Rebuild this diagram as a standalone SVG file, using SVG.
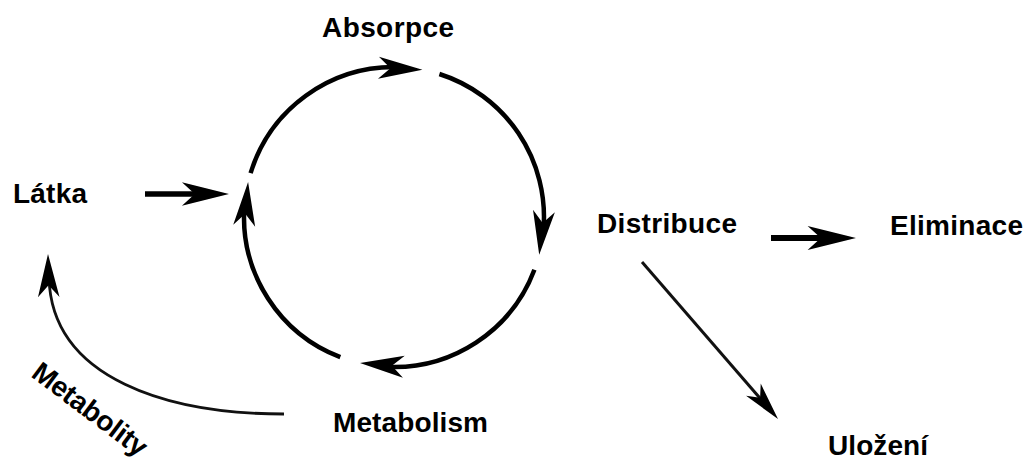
<svg xmlns="http://www.w3.org/2000/svg" xmlns:xlink="http://www.w3.org/1999/xlink" width="1027" height="463" viewBox="0 0 1027 463">
<style>
.lbl{font-family:"Liberation Sans",Arial,sans-serif;font-weight:bold;font-size:28px;fill:#000}
.arc{fill:none;stroke:#000;stroke-width:4.5;stroke-linecap:butt}
.thick{fill:none;stroke:#000;stroke-width:6}
.thin{fill:none;stroke:#111;stroke-width:2.8}
.ah{fill:#000}
</style>
<defs>
<path id="ah" d="M0,0 L-44,-11 L-32,0 L-44,11 Z"/>
</defs>
<rect width="1027" height="463" fill="#fff"/>
<g id="connectors">
<path class="arc" d="M250.6,173.1 A150,150 0 0 1 396.4,67"/>
<use xlink:href="#ah" class="ah" transform="translate(422.4,69.7) rotate(2.5)"/>
<path class="arc" d="M439.4,74 A150,150 0 0 1 543.5,229"/>
<use xlink:href="#ah" class="ah" transform="translate(539.2,254.8) rotate(96.2)"/>
<path class="arc" d="M534.4,269.8 A150,150 0 0 1 385.9,366.8"/>
<use xlink:href="#ah" class="ah" transform="translate(360,363.1) rotate(184.7)"/>
<path class="arc" d="M340.3,357.1 A150,150 0 0 1 244.3,207.8"/>
<use xlink:href="#ah" class="ah" transform="translate(248.1,182) rotate(275.1)"/>
<path class="thick" style="stroke-width:5.5" d="M145,194 L205,194"/>
<use xlink:href="#ah" class="ah" transform="translate(229,194) scale(1.07)"/>
<path class="thick" d="M771,238 L830,238"/>
<use xlink:href="#ah" class="ah" transform="translate(856,238) scale(1.1)"/>
<path class="thin" style="stroke-width:3" d="M642,262 L765,404"/>
<use xlink:href="#ah" class="ah" transform="translate(778,419) rotate(50) scale(0.87)"/>
<path class="thin" d="M284,414 C170,414 52,380 49,278"/>
<use xlink:href="#ah" class="ah" transform="translate(48,254) rotate(-91) scale(0.98)"/>
</g>
<g id="absorpce"><text class="lbl" x="322" y="37" textLength="132" lengthAdjust="spacing">Absorpce</text></g>
<g id="latka"><text class="lbl" x="13" y="203" textLength="74" lengthAdjust="spacing">Látka</text></g>
<g id="distribuce"><text class="lbl" x="597" y="233" textLength="140" lengthAdjust="spacing">Distribuce</text></g>
<g id="eliminace"><text class="lbl" x="890" y="235" textLength="133" lengthAdjust="spacing">Eliminace</text></g>
<g id="ulozeni"><text class="lbl" x="828" y="455" textLength="100" lengthAdjust="spacing">Uložení</text></g>
<g id="metabolism"><text class="lbl" x="333" y="432" textLength="155" lengthAdjust="spacing">Metabolism</text></g>
<g id="metabolity"><text class="lbl" transform="translate(30,376) rotate(37)" x="0" y="0" textLength="136" lengthAdjust="spacing">Metabolity</text></g>
</svg>
